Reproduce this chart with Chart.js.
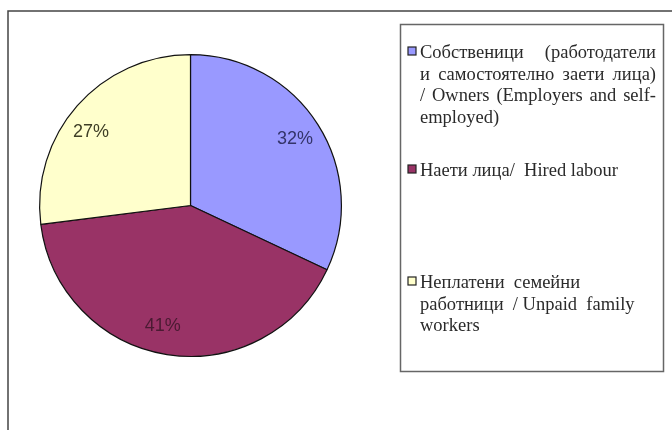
<!DOCTYPE html>
<html>
<head>
<meta charset="utf-8">
<script src="https://cdn.jsdelivr.net/npm/chart.js@4.4.1/dist/chart.umd.min.js"></script>
<style>
  html, body { margin: 0; padding: 0; background: #fff; }
  canvas { display: block; }
</style>
</head>
<body>
<canvas id="pieChart" width="672" height="430"></canvas>
<script>
// shares of employed persons, %
const categories = [
    ['Собственици  (работодатели', 'и самостоятелно заети лица)', '/ Owners (Employers and self-', 'employed)'],
    ['Наети лица/  Hired labour'],
    ['Неплатени  семейни', 'работници  / Unpaid  family', 'workers']
];
const shares = [32, 41, 27];
const sliceColors = ['#9999ff', '#993366', '#ffffcc'];
const labelColors = ['#34346a', '#4a1a32', '#3e3e26'];

// legend rows: baseline of the first line of each entry
const legendTops = [58, 176, 288];

const boxPlugin = {
    id: 'boxPlugin',
    beforeDraw(chart) {
        const ctx = chart.ctx;
        ctx.save();
        ctx.fillStyle = '#fff';
        ctx.fillRect(0, 0, chart.width, chart.height);
        // outer frame, top and left edge only
        ctx.strokeStyle = '#444';
        ctx.lineWidth = 1.5;
        ctx.beginPath();
        ctx.moveTo(chart.width, 11);
        ctx.lineTo(8, 11);
        ctx.lineTo(8, chart.height);
        ctx.stroke();
        ctx.restore();
    },
    afterDatasetsDraw(chart) {
        const ctx = chart.ctx;
        const meta = chart.getDatasetMeta(0);
        ctx.save();

        // percent labels inside slices, nudged a little off the mid angle
        const shift = [0, 4, -5];
        ctx.font = '18px "Liberation Sans", Arial, sans-serif';
        ctx.textAlign = 'center';
        ctx.textBaseline = 'middle';
        meta.data.forEach((arc, i) => {
            const p = arc.getProps(['x', 'y', 'startAngle', 'endAngle', 'outerRadius'], true);
            const mid = (p.startAngle + p.endAngle) / 2 + shift[i] * Math.PI / 180;
            const r = p.outerRadius * 0.82;
            ctx.fillStyle = labelColors[i];
            ctx.fillText(shares[i] + '%', p.x + Math.cos(mid) * r, p.y + Math.sin(mid) * r);
        });

        // legend box
        ctx.strokeStyle = '#666';
        ctx.lineWidth = 1.5;
        ctx.strokeRect(400.5, 24.5, 263, 347);

        ctx.font = '18.5px "Liberation Serif", "Times New Roman", serif';
        ctx.textAlign = 'left';
        ctx.textBaseline = 'alphabetic';
        const textX = 420;
        const justifyW = 236;
        const lineH = 21.5;
        categories.forEach((lines, i) => {
            const y0 = legendTops[i];
            // marker
            ctx.fillStyle = sliceColors[i];
            ctx.fillRect(408, y0 - 11, 8, 8);
            ctx.strokeStyle = '#222';
            ctx.lineWidth = 1.2;
            ctx.strokeRect(408, y0 - 11, 8, 8);
            ctx.fillStyle = '#2a2a2a';
            lines.forEach((line, j) => {
                const y = y0 + j * lineH;
                // first entry is justified except its last line
                if (i === 0 && j < lines.length - 1) {
                    const words = line.split(/\s+/);
                    const wordsW = words.reduce((s, w) => s + ctx.measureText(w).width, 0);
                    const gap = (justifyW - wordsW) / (words.length - 1);
                    let x = textX;
                    words.forEach(w => {
                        ctx.fillText(w, x, y);
                        x += ctx.measureText(w).width + gap;
                    });
                } else {
                    ctx.fillText(line, textX, y);
                }
            });
        });
        ctx.restore();
    }
};

new Chart(document.getElementById('pieChart'), {
    type: 'pie',
    data: {
        labels: categories.map(l => l.join(' ')),
        datasets: [{
            data: shares,
            backgroundColor: sliceColors,
            borderColor: '#111',
            borderWidth: 1.2
        }]
    },
    options: {
        responsive: false,
        animation: false,
        layout: { padding: { left: 39, top: 54, right: 330, bottom: 73 } },
        plugins: {
            legend: { display: false },
            tooltip: { enabled: false }
        }
    },
    plugins: [boxPlugin]
});
</script>
</body>
</html>
